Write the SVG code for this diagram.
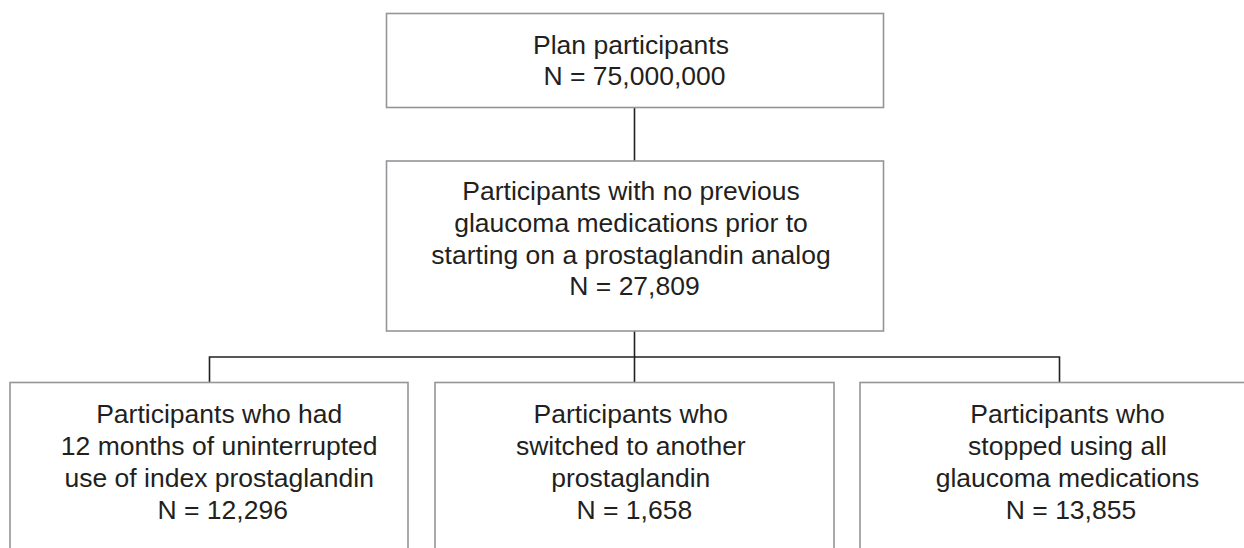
<svg xmlns="http://www.w3.org/2000/svg" width="1244" height="548" viewBox="0 0 1244 548">
<style>
.box{fill:#fff;stroke:#939598;stroke-width:1.6}
.conn{fill:none;stroke:#231f20;stroke-width:1.6}
text{font-family:"Liberation Sans",Arial,sans-serif;font-size:26.5px;fill:#231f20;text-anchor:middle}
</style>
<rect width="1244" height="548" fill="#fff"/>
<g id="connectors">
<path class="conn" d="M634.5 107.5V161M634.5 331V382.5M209.5 357H1059.5M209.5 356.2V382.5M1059.5 356.2V382.5"/>
</g>
<g id="node-plan">
<rect class="box" x="386.5" y="13.5" width="497" height="94"/>
<text x="631" y="53.5">Plan participants</text>
<text x="634.5" y="84.5">N = 75,000,000</text>
</g>
<g id="node-naive">
<rect class="box" x="386.5" y="161" width="497" height="170"/>
<text x="631" y="200">Participants with no previous</text>
<text x="631" y="231.8">glaucoma medications prior to</text>
<text x="631" y="263.6">starting on a prostaglandin analog</text>
<text x="634.5" y="295.4">N = 27,809</text>
</g>
<g id="node-uninterrupted">
<rect class="box" x="10" y="382.5" width="398" height="200"/>
<text x="219.2" y="423.3">Participants who had</text>
<text x="219.2" y="455">12 months of uninterrupted</text>
<text x="219.2" y="486.7">use of index prostaglandin</text>
<text x="222.7" y="518.5">N = 12,296</text>
</g>
<g id="node-switched">
<rect class="box" x="435" y="382.5" width="399" height="200"/>
<text x="630.8" y="423.3">Participants who</text>
<text x="630.8" y="455">switched to another</text>
<text x="630.8" y="486.7">prostaglandin</text>
<text x="634.3" y="518.5">N = 1,658</text>
</g>
<g id="node-stopped">
<rect class="box" x="860" y="382.5" width="400" height="200"/>
<text x="1067.5" y="423.3">Participants who</text>
<text x="1067.5" y="455">stopped using all</text>
<text x="1067.5" y="486.7">glaucoma medications</text>
<text x="1071" y="518.5">N = 13,855</text>
</g>
</svg>
